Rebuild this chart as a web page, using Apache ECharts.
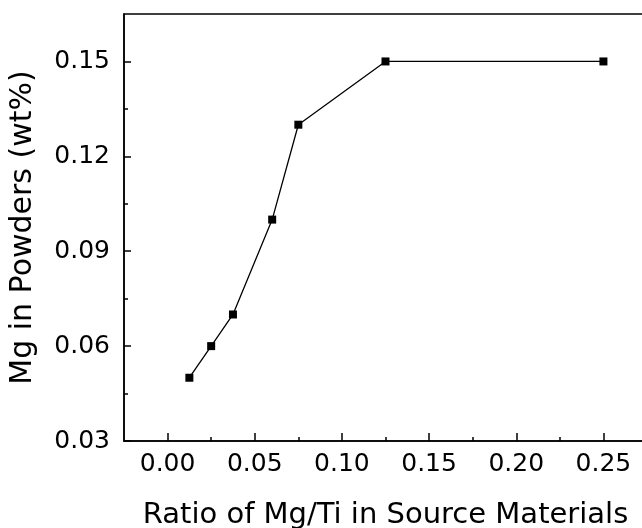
<!DOCTYPE html>
<html>
<head>
<meta charset="utf-8">
<script src="https://cdn.jsdelivr.net/npm/echarts@6/dist/echarts.min.js"></script>
<style>
  html, body { margin: 0; padding: 0; background: #fff; }
  #main { width: 642px; height: 528px; }
</style>
</head>
<body>
<div id="main"></div>
<script>
// Mg/Ti ratio vs Mg content
let ratio = [0.0125, 0.025, 0.0375, 0.06, 0.075, 0.125, 0.25];
let mgContent = [0.05, 0.06, 0.07, 0.10, 0.13, 0.15, 0.15];

let xMajor = [0, 0.05, 0.10, 0.15, 0.20, 0.25];
let xMinor = [0.025, 0.075, 0.125, 0.175, 0.225];
let yMajor = [0.03, 0.06, 0.09, 0.12, 0.15];
let yMinor = [0.045, 0.075, 0.105, 0.135];

let font = 'DejaVu Sans';
let xRange = [-0.025, 0.275];
let yRange = [0.03, 0.165];

let points = ratio.map(function (r, i) {
  return [r, mgContent[i]];
});

let tickStyle = {color: '#000', width: 1.5};

// helper: an axis that only draws the short minor ticks (no line, no labels)
function tickAxis(pos, range, values, len) {
  return {
    type: 'value',
    position: pos,
    min: range[0],
    max: range[1],
    axisLine: {show: false, onZero: false},
    axisTick: {show: true, inside: true, length: len, customValues: values, lineStyle: tickStyle},
    axisLabel: {show: false},
    splitLine: {show: false}
  };
}

let option = {
  animation: false,
  backgroundColor: '#fff',
  grid: {
    left: 124,
    top: 14,
    width: 523,
    height: 427,
    outerBoundsMode: 'none',
    containLabel: false,
    show: true,
    borderColor: '#000',
    borderWidth: 1.5
  },
  xAxis: [{
    type: 'value',
    min: xRange[0],
    max: xRange[1],
    name: 'Ratio of Mg/Ti in Source Materials',
    nameLocation: 'middle',
    nameGap: 60,
    nameTextStyle: {fontFamily: font, fontSize: 29, color: '#000'},
    axisLine: {show: true, onZero: false, lineStyle: {color: '#000', width: 1.5}},
    axisTick: {show: true, inside: true, length: 8, customValues: xMajor, lineStyle: tickStyle},
    axisLabel: {
      customValues: xMajor,
      margin: 11,
      fontFamily: font, fontSize: 25, color: '#000',
      formatter: function (v) { return v.toFixed(2); }
    },
    splitLine: {show: false}
  },
    tickAxis('bottom', xRange, xMinor, 4)
  ],
  yAxis: [{
    type: 'value',
    min: yRange[0],
    max: yRange[1],
    name: 'Mg in Powders (wt%)',
    nameLocation: 'middle',
    nameGap: 86,
    nameTextStyle: {fontFamily: font, fontSize: 30, color: '#000'},
    axisLine: {show: true, onZero: false, lineStyle: {color: '#000', width: 1.5}},
    axisTick: {show: true, inside: true, length: 7, customValues: yMajor, lineStyle: tickStyle},
    axisLabel: {
      customValues: yMajor,
      margin: 14,
      fontFamily: font, fontSize: 25, color: '#000',
      formatter: function (v) { return v.toFixed(2); }
    },
    splitLine: {show: false}
  },
    tickAxis('left', yRange, yMinor, 4)
  ],
  series: [{
    type: 'line',
    data: points,
    symbol: 'rect',
    symbolSize: 8,
    itemStyle: {color: '#000'},
    lineStyle: {color: '#000', width: 1.3}
  }]
};

let myChart = echarts.init(document.getElementById('main'));
myChart.setOption(option);
</script>
</body>
</html>
